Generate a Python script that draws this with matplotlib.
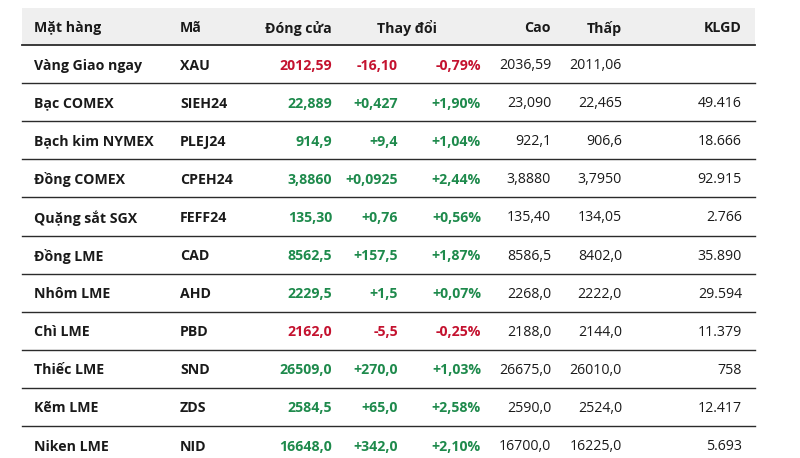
import matplotlib
matplotlib.use("Agg")
import matplotlib.pyplot as plt
from matplotlib.patches import Rectangle

headers = ["Mặt hàng", "Mã", "Đóng cửa", "Thay đổi", "Cao", "Thấp", "KLGD"]
names = ["Vàng Giao ngay", "Bạc COMEX", "Bạch kim NYMEX", "Đồng COMEX", "Quặng sắt SGX",
         "Đồng LME", "Nhôm LME", "Chì LME", "Thiếc LME", "Kẽm LME", "Niken LME"]
codes = ["XAU", "SIEH24", "PLEJ24", "CPEH24", "FEFF24", "CAD", "AHD", "PBD", "SND", "ZDS", "NID"]
close = ["2012,59", "22,889", "914,9", "3,8860", "135,30", "8562,5", "2229,5", "2162,0",
         "26509,0", "2584,5", "16648,0"]
change = ["-16,10", "+0,427", "+9,4", "+0,0925", "+0,76", "+157,5", "+1,5", "-5,5",
          "+270,0", "+65,0", "+342,0"]
pct = ["-0,79%", "+1,90%", "+1,04%", "+2,44%", "+0,56%", "+1,87%", "+0,07%", "-0,25%",
       "+1,03%", "+2,58%", "+2,10%"]
high = ["2036,59", "23,090", "922,1", "3,8880", "135,40", "8586,5", "2268,0", "2188,0",
        "26675,0", "2590,0", "16700,0"]
low = ["2011,06", "22,465", "906,6", "3,7950", "134,05", "8402,0", "2222,0", "2144,0",
       "26010,0", "2524,0", "16225,0"]
volume = ["", "49.416", "18.666", "92.915", "2.766", "35.890", "29.594", "11.379",
          "758", "12.417", "5.693"]

RED = "#c4122f"
GREEN = "#1e8a4c"
TXT = "#1a1a1a"

plt.rcParams['font.family'] = ['Open Sans', 'DejaVu Sans']

fig = plt.figure(figsize=(8, 4.58), dpi=100)
ax = fig.add_axes([0, 0, 1, 1])
ax.set_xlim(0, 800)
ax.set_ylim(458, 0)
ax.axis("off")

x0, x1 = 22, 755
top, head_bot, rh = 8, 45, 38.1
fs = 10.2

ax.add_patch(Rectangle((x0, top), x1 - x0, head_bot - top, color="#efefef", lw=0, zorder=0))
ax.plot([x0, x1], [head_bot, head_bot], color="#2b2b2b", lw=1.3, zorder=2)

hy = (top + head_bot) / 2 + 1.5
hdr_pos = [(34, "left"), (180, "left"), (332, "right"), (407, "center"),
           (551, "right"), (622, "right"), (742, "right")]
for h, (x, ha) in zip(headers, hdr_pos):
    ax.text(x, hy, h, ha=ha, va="center", fontsize=fs, fontweight="bold", color=TXT)

for i in range(len(names)):
    yc = head_bot + rh * (i + 0.5) + 1.5
    col = RED if change[i].startswith("-") else GREEN
    ax.text(34, yc, names[i], ha="left", va="center", fontsize=fs, fontweight="bold", color=TXT)
    ax.text(180, yc, codes[i], ha="left", va="center", fontsize=fs, fontweight="bold", color=TXT)
    ax.text(332, yc, close[i], ha="right", va="center", fontsize=fs, fontweight="bold", color=col)
    ax.text(398, yc, change[i], ha="right", va="center", fontsize=fs, fontweight="bold", color=col)
    ax.text(481, yc, pct[i], ha="right", va="center", fontsize=fs, fontweight="bold", color=col)
    ax.text(551, yc, high[i], ha="right", va="center", fontsize=fs, color=TXT)
    ax.text(622, yc, low[i], ha="right", va="center", fontsize=fs, color=TXT)
    ax.text(742, yc, volume[i], ha="right", va="center", fontsize=fs, color=TXT)
    if i < len(names) - 1:
        yl = head_bot + rh * (i + 1)
        ax.plot([x0, x1], [yl, yl], color="#2b2b2b", lw=1.0, zorder=2)

fig.savefig("out.png", dpi=100)
